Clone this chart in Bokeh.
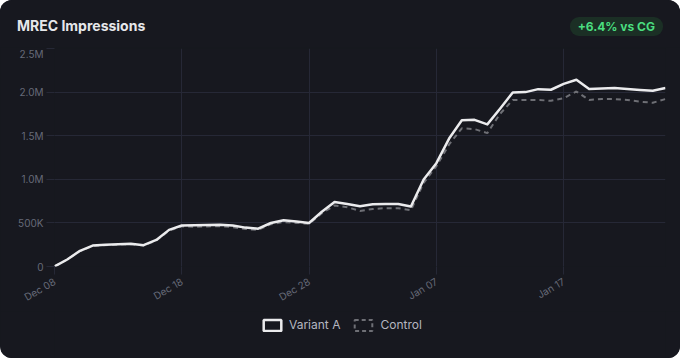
import datetime as dt
import math
from bokeh.plotting import figure
from bokeh.models import (Range1d, FixedTicker, DatetimeTickFormatter,
                          Legend, LegendItem, ColumnDataSource, Div)
from bokeh.layouts import column
from bokeh.embed import file_html
from bokeh.resources import INLINE

# ---- data ----
start_date = dt.datetime(2023, 12, 8)
n_days = 49
variant_a = [0.00, 0.08, 0.18, 0.24, 0.25, 0.255, 0.26, 0.245, 0.305, 0.42,
             0.47, 0.472, 0.475, 0.48, 0.47, 0.446, 0.434, 0.499, 0.53, 0.516,
             0.499, 0.628, 0.74, 0.716, 0.69, 0.714, 0.716, 0.716, 0.687, 0.998,
             1.185, 1.467, 1.678, 1.682, 1.63, 1.81, 1.995, 2.00, 2.034, 2.027,
             2.095, 2.142, 2.036, 2.042, 2.046, 2.036, 2.025, 2.015, 2.046]
control = [0.00, 0.08, 0.175, 0.235, 0.245, 0.25, 0.255, 0.24, 0.30, 0.41,
           0.46, 0.455, 0.46, 0.462, 0.452, 0.43, 0.42, 0.485, 0.51, 0.50,
           0.49, 0.61, 0.70, 0.68, 0.637, 0.66, 0.669, 0.669, 0.646, 0.96,
           1.15, 1.40, 1.585, 1.576, 1.53, 1.75, 1.91, 1.91, 1.91, 1.90,
           1.93, 2.007, 1.91, 1.92, 1.92, 1.91, 1.89, 1.878, 1.92]
y_ticks = [0, 500_000, 1_000_000, 1_500_000, 2_000_000, 2_500_000]
y_tick_labels = ["0", "500K", "1.0M", "1.5M", "2.0M", "2.5M"]
x_tick_days = [0, 10, 20, 30, 40]
title_text = "MREC Impressions"
badge_text = "+6.4% vs CG"
series_names = ["Variant A", "Control"]

dates = [start_date + dt.timedelta(days=i) for i in range(n_days)]
src = ColumnDataSource(dict(
    date=dates,
    a=[v * 1_000_000 for v in variant_a],
    c=[v * 1_000_000 for v in control],
))

BG = "#17181f"
GRID = "#262836"
TICK_TXT = "#666a78"
FONT = "Inter"
COL_A = "#ebebed"
COL_C = "#6e6f75"
NAN = float("nan")


def ms(d):
    return (d - dt.datetime(1970, 1, 1)).total_seconds() * 1000.0


header = Div(
    text=(
        f'<div style="width:680px;height:52px;box-sizing:border-box;'
        f'display:flex;justify-content:space-between;align-items:center;'
        f'padding:0 17px 0 17px;font-family:{FONT},sans-serif;">'
        f'<span style="color:#e6e7ea;font-size:14px;font-weight:700;">{title_text}</span>'
        f'<span style="color:#4ade80;background:#1b2f25;font-size:12px;font-weight:700;'
        f'padding:2px 8px;border-radius:9px;line-height:15px;">{badge_text}</span>'
        f'</div>'
    ),
    width=680, height=47, margin=0,
    styles={"background-color": BG},
)

# ---- main chart ----
p = figure(width=680, height=264, x_axis_type="datetime",
           output_backend="svg", toolbar_location=None, title_location=None,
           x_range=Range1d(ms(dates[0]), ms(dates[-1])),
           y_range=Range1d(0, 2_500_000),
           min_border_left=54, min_border_right=15,
           min_border_top=1, min_border_bottom=45,
           background_fill_color=BG, border_fill_color=BG, margin=0)
p.outline_line_color = None

p.xgrid.grid_line_color = GRID
p.ygrid.grid_line_color = GRID

p.xaxis.ticker = FixedTicker(ticks=[ms(dates[d]) for d in x_tick_days])
p.xaxis.formatter = DatetimeTickFormatter(days="%b %d", months="%b %d")
p.xaxis.major_label_orientation = math.pi / 6
p.yaxis.ticker = FixedTicker(ticks=y_ticks)
p.yaxis.major_label_overrides = {t: l for t, l in zip(y_ticks, y_tick_labels)}
for ax in (p.xaxis, p.yaxis):
    ax.axis_line_color = None
    ax.major_tick_line_color = GRID
    ax.major_tick_out = 8
    ax.major_tick_in = 0
    ax.minor_tick_line_color = None
    ax.major_label_text_color = TICK_TXT
    ax.major_label_text_font = FONT
    ax.major_label_text_font_size = "10px"
    ax.major_label_standoff = 3
p.xaxis.major_label_standoff = 6

p.line("date", "c", source=src, line_color=COL_C, line_width=2, line_dash="5 4")
p.line("date", "a", source=src, line_color=COL_A, line_width=2.5,
       line_join="round")

# ---- legend strip ----
lg = figure(width=680, height=47, output_backend="svg", toolbar_location=None,
            title_location=None, x_axis_location=None, y_axis_location=None,
            x_range=Range1d(0, 1), y_range=Range1d(0, 1),
            min_border=0, background_fill_color=BG, border_fill_color=BG,
            margin=0)
lg.outline_line_color = None
lg.grid.visible = False
leg_a = lg.quad(left=[NAN], right=[NAN], top=[NAN], bottom=[NAN],
                fill_color=BG, line_color=COL_A, line_width=2.5)
leg_c = lg.quad(left=[NAN], right=[NAN], top=[NAN], bottom=[NAN],
                fill_color=BG, line_color=COL_C, line_width=2, line_dash="4 3")
legend = Legend(items=[LegendItem(label=series_names[0], renderers=[leg_a]),
                       LegendItem(label=series_names[1], renderers=[leg_c])],
                orientation="horizontal", location=(207, 26),
                glyph_width=22, glyph_height=14, label_height=14,
                label_standoff=6, spacing=12, padding=0, margin=0,
                border_line_color=None, background_fill_alpha=0,
                label_text_color="#b4b6c0", label_text_font=FONT,
                label_text_font_size="12px")
lg.add_layout(legend, "center")

layout = column(header, p, lg, spacing=0, margin=0,
                styles={"border-radius": "12px", "overflow": "hidden",
                        "background-color": BG})

open("out.html", "w").write(file_html(layout, INLINE))
